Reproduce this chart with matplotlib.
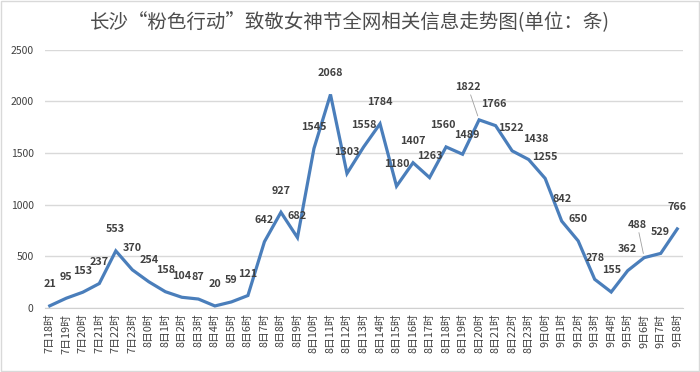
import matplotlib.pyplot as plt
from matplotlib.patches import Rectangle

plt.rcParams['font.family'] = ['Noto Sans CJK SC', 'DejaVu Sans']

# data
hours = ['7日18时', '7日19时', '7日20时', '7日21时', '7日22时', '7日23时'] + \
        ['8日%d时' % h for h in range(24)] + \
        ['9日%d时' % h for h in range(9)]
counts = [21, 95, 153, 237, 553, 370, 254, 158, 104, 87, 20, 59, 121,
          642, 927, 682, 1545, 2068, 1303, 1558, 1784, 1180, 1407, 1263,
          1560, 1489, 1822, 1766, 1522, 1438, 1255, 842, 650, 278, 155,
          362, 488, 529, 766]
title = '长沙“粉色行动”致敬女神节全网相关信息走势图(单位：条)'

fig = plt.figure(figsize=(7, 3.72), dpi=100)
ax = fig.add_axes([0.064, 0.172, 0.912, 0.694])

x = list(range(len(counts)))
ax.plot(x, counts, color='#4a7ebb', lw=2.3, solid_joinstyle='miter', zorder=3)

# labels above points; a few are nudged (two with leader lines, as in the original)
nudge = {24: (-2, 0), 25: (3, -2), 26: (-8, 8), 27: (-1, 0), 28: (-1, 1),
         29: (5, -1), 36: (-5, 8)}
leaders = (26, 36)
for i, v in enumerate(counts):
    dx, dy = nudge.get(i, (0, 0))
    ax.annotate(str(v), (i, v), xytext=(dx, 12 + dy), textcoords='offset points',
                ha='center', va='bottom', fontsize=7.8, fontweight='bold',
                color='#404040', zorder=4,
                arrowprops=dict(arrowstyle='-', color='#a0a0a0', lw=0.6,
                                shrinkA=0, shrinkB=3) if i in leaders else None)

ax.set_xlim(-0.3, 38.36)
ax.set_ylim(0, 2500)
ax.set_yticks(range(0, 2501, 500))
ax.set_xticks(x)
ax.set_xticklabels(hours, rotation=90, fontsize=7.8, color='#404040')
ax.tick_params(axis='y', labelsize=7.5, labelcolor='#404040', length=0, pad=8)
ax.tick_params(axis='x', length=0, pad=4)
ax.grid(axis='y', color='#d9d9d9', lw=1)
ax.set_axisbelow(True)
for s in ['top', 'right', 'left']:
    ax.spines[s].set_visible(False)
ax.spines['bottom'].set_color('#d0d0d0')

fig.text(0.5, 0.94, title, ha='center', va='center', fontsize=14,
         color='#4d4d4d')
fig.patches.append(Rectangle((0.002, 0.003), 0.996, 0.994, transform=fig.transFigure,
                             fill=False, ec='#d9d9d9', lw=1))

fig.savefig('out.png', dpi=100)
